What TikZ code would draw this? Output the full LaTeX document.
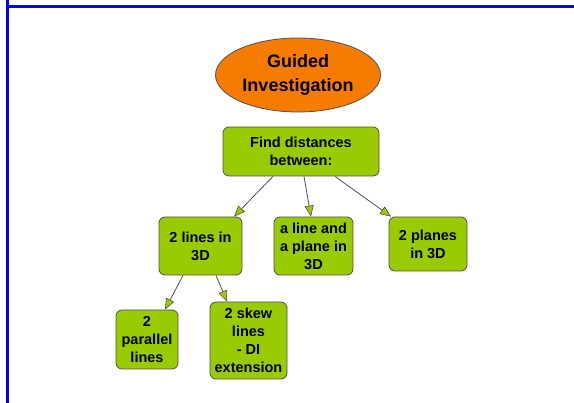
\documentclass[tikz,border=0pt]{standalone}
\usepackage{fontspec}
\setmainfont{Liberation Sans}
\usetikzlibrary{shapes.geometric,arrows.meta}
\definecolor{leaf}{RGB}{153,204,0}
\definecolor{edgegray}{RGB}{80,80,80}
\definecolor{titleorange}{RGB}{245,124,0}
\tikzset{
  conceptbox/.style={draw=edgegray, line width=0.8pt, fill=leaf, rounded corners=6pt,
    align=center, inner sep=0pt, font=\fontsize{14.5}{18}\selectfont\bfseries},
  titleoval/.style={ellipse, draw=edgegray, line width=0.8pt, fill=titleorange,
    align=center, inner sep=0pt, font=\fontsize{18}{24}\selectfont\bfseries},
  link/.style={draw=edgegray, line width=0.8pt,
    -{Triangle[length=11pt, width=9pt, fill=leaf, line width=0.6pt]}},
}
\begin{document}
\begin{tikzpicture}[x=1pt, y=-1pt]
  \useasboundingbox (0,0) rectangle (574,403);
  % frame edges
  \draw[blue, line width=3pt] (7.5,0) -- (7.5,403);
  \draw[blue, line width=3pt] (6,6.5) -- (574,6.5);

  % title
  \node[titleoval, minimum width=165pt, minimum height=74pt] (title) at (298,75)
    {Guided\\Investigation};

  % concept boxes
  \node[conceptbox, minimum width=156pt, minimum height=49pt] (find) at (301,151.5)
    {Find distances\\between:};
  \node[conceptbox, minimum width=83pt, minimum height=58pt] (lines) at (200.5,246)
    {2 lines in\\3D};
  \node[conceptbox, minimum width=79pt, minimum height=58pt] (lineplane) at (313.5,246)
    {a line and\\a plane in\\3D};
  \node[conceptbox, minimum width=78pt, minimum height=54pt] (planes) at (428,244)
    {2 planes\\in 3D};
  \node[conceptbox, minimum width=62pt, minimum height=59pt] (parallel) at (147,339.5)
    {2\\parallel\\lines};
  \node[conceptbox, minimum width=77pt, minimum height=77pt] (skew) at (248.5,340.5)
    {2 skew\\lines\\- DI\\extension};

  % links
  \draw[link] ([xshift=-28pt]find.south) -- ([xshift=33.5pt]lines.north);
  \draw[link] ([xshift=3pt]find.south) -- ([xshift=-2.5pt]lineplane.north);
  \draw[link] ([xshift=34pt]find.south) -- ([xshift=-37pt]planes.north);
  \draw[link] ([xshift=-17.5pt]lines.south) -- ([xshift=18pt]parallel.north);
  \draw[link] ([xshift=15.5pt]lines.south) -- ([xshift=-21.5pt]skew.north);
\end{tikzpicture}
\end{document}
